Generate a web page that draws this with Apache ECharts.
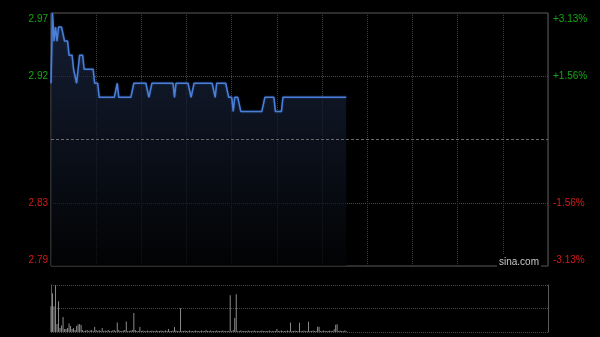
<!DOCTYPE html>
<html>
<head>
<meta charset="utf-8">
<script src="https://cdn.jsdelivr.net/npm/echarts@6/dist/echarts.min.js"></script>
<style>html,body{margin:0;padding:0;background:#000;}#c{width:600px;height:337px;}</style>
</head>
<body>
<div id="c"></div>
<script>
// minute index from 9:30 (HK session, 330 minutes total)
const prices = [
2.92,2.97,2.95,2.96,2.95,2.96,2.96,2.96,2.96,2.95,
2.95,2.95,2.94,2.94,2.94,2.93,2.93,2.92,2.93,2.94,
2.94,2.94,2.93,2.93,2.93,2.93,2.93,2.93,2.93,2.92,
2.92,2.92,2.91,2.91,2.91,2.91,2.91,2.91,2.91,2.91,
2.91,2.91,2.91,2.91,2.92,2.91,2.91,2.91,2.91,2.91,
2.91,2.91,2.91,2.91,2.91,2.92,2.92,2.92,2.92,2.92,
2.92,2.92,2.92,2.92,2.92,2.91,2.91,2.92,2.92,2.92,
2.92,2.92,2.92,2.92,2.92,2.92,2.92,2.92,2.92,2.92,
2.92,2.92,2.91,2.92,2.92,2.92,2.92,2.92,2.92,2.92,
2.92,2.92,2.92,2.91,2.91,2.92,2.92,2.92,2.92,2.92,
2.92,2.92,2.92,2.92,2.92,2.92,2.92,2.92,2.92,2.91,
2.92,2.92,2.92,2.92,2.92,2.92,2.92,2.92,2.91,2.91,
2.91,2.90,2.91,2.91,2.91,2.91,2.90,2.90,2.90,2.90,
2.90,2.90,2.90,2.90,2.90,2.90,2.90,2.90,2.90,2.90,
2.90,2.90,2.91,2.91,2.91,2.91,2.91,2.91,2.91,2.90,
2.90,2.90,2.90,2.90,2.91,2.91,2.91,2.91,2.91,2.91,
2.91,2.91,2.91,2.91,2.91,2.91,2.91,2.91,2.91,2.91,
2.91,2.91,2.91,2.91,2.91,2.91,2.91,2.91,2.91,2.91,
2.91,2.91,2.91,2.91,2.91,2.91,2.91,2.91,2.91,2.91,
2.91,2.91,2.91,2.91,2.91,2.91,2.91
];
const volumes = [
260,390,260,470,80,310,40,65,150,30,
30,40,85,60,30,40,20,60,75,80,
70,20,10,15,20,10,15,20,10,50,
20,10,20,10,40,10,15,10,20,10,
10,15,20,10,95,20,10,10,15,20,
105,10,10,15,20,190,20,10,10,50,
10,15,10,10,15,10,10,15,10,10,
15,10,10,15,10,10,15,10,30,10,
10,15,50,15,10,10,240,10,10,15,
10,10,15,10,10,10,15,10,10,10,
15,10,10,20,10,10,15,10,10,10,
15,10,10,10,15,10,10,10,10,370,
10,20,140,380,10,10,15,10,10,10,
10,15,10,10,10,15,10,10,10,10,
15,10,10,10,10,15,10,10,10,10,
30,10,10,15,10,10,10,15,10,95,
10,10,15,10,10,93,10,10,15,10,
10,103,10,10,15,10,10,53,53,10,
10,15,10,10,10,15,10,10,27,73,
77,10,15,10,10,15,10
];
const priceTicks = ['2.79','2.83','','2.92','2.97'];
const pctTicks = ['-3.13%','-1.56%','','+1.56%','+3.13%'];
const prevClose = 2.88;
const priceMin = 2.79, priceMax = 2.97, priceStep = 0.045;
const totalMinutes = 330, gridStep = 30;

const green = '#12a812', red = '#d41a1a';
const font = '"Liberation Sans", Arial, sans-serif';
function richLabel(text, idx, n) {
  if (!text) return '';
  const up = text.charAt(0) === '+' || idx > 2;
  const pos = idx === n - 1 ? 't' : (idx === 0 ? 'b' : 'm');
  return '{' + (up ? 'g' : 'r') + pos + '|' + text + '}';
}
const rich = {
  gt: {color: green, fontSize: 10, fontFamily: font, padding: [12, 0, 0, 0]},
  gm: {color: green, fontSize: 10, fontFamily: font},
  rm: {color: red, fontSize: 10, fontFamily: font},
  rb: {color: red, fontSize: 10, fontFamily: font, padding: [0, 0, 12, 0]}
};

const chart = echarts.init(document.getElementById('c'), null, {renderer: 'canvas'});
chart.setOption({
  backgroundColor: '#000',
  animation: false,
  title: {
    text: 'sina.com', left: 497, top: 254, padding: [3, 2, 2, 2],
    backgroundColor: '#000',
    textStyle: {color: '#c8c8c8', fontSize: 10, fontWeight: 'normal', fontFamily: font}
  },
  grid: [
    {left: 51, right: 52, top: 13, bottom: 71, show: true, borderColor: '#5a5a5a', borderWidth: 1, backgroundColor: 'transparent'},
    {left: 51, right: 52, top: 285, bottom: 5}
  ],
  xAxis: [
    {type: 'value', gridIndex: 0, min: 0, max: totalMinutes, interval: gridStep,
     axisLine: {show: false}, axisTick: {show: false}, axisLabel: {show: false},
     splitLine: {show: true, lineStyle: {color: '#3c3c3c', type: 'dotted'}}},
    {type: 'value', gridIndex: 1, min: 0, max: totalMinutes, interval: gridStep,
     axisLine: {show: false}, axisTick: {show: false}, axisLabel: {show: false},
     splitLine: {show: false}}
  ],
  yAxis: [
    {type: 'value', gridIndex: 0, min: priceMin, max: priceMax, interval: priceStep, position: 'left',
     axisLine: {show: false}, axisTick: {show: false},
     axisLabel: {margin: 3, formatter: (v, i) => richLabel(priceTicks[i], i, priceTicks.length), rich: rich},
     splitLine: {show: true, lineStyle: {color: ['transparent', '#4a4a4a', 'transparent', '#4a4a4a', 'transparent'], type: 'dotted'}}},
    {type: 'value', gridIndex: 0, min: priceMin, max: priceMax, interval: priceStep, position: 'right',
     axisLine: {show: false}, axisTick: {show: false},
     axisLabel: {margin: 5, formatter: (v, i) => richLabel(pctTicks[i], i, pctTicks.length), rich: rich},
     splitLine: {show: false}},
    {type: 'value', gridIndex: 1, min: 0, max: 473, interval: 236.5, position: 'left',
     axisLine: {show: true, lineStyle: {color: '#5a5a5a'}}, axisTick: {show: false}, axisLabel: {show: false},
     splitLine: {show: true, lineStyle: {color: '#4a4a4a', type: 'dotted'}}},
    {type: 'value', gridIndex: 1, min: 0, max: 473, interval: 236.5, position: 'right',
     axisLine: {show: true, lineStyle: {color: '#5a5a5a'}}, axisTick: {show: false}, axisLabel: {show: false},
     splitLine: {show: false}}
  ],
  series: [
    {type: 'line', xAxisIndex: 0, yAxisIndex: 0, symbol: 'none',
     data: prices.map((p, i) => [i, p]),
     lineStyle: {color: '#4a7fd8', width: 1.5, shadowColor: 'rgba(60,110,210,0.6)', shadowBlur: 2},
     areaStyle: {color: new echarts.graphic.LinearGradient(0, 0, 0, 1, [
       {offset: 0, color: '#1d2b4a'}, {offset: 1, color: '#030405'}])},
     markLine: {silent: true, symbol: 'none', label: {show: false},
       lineStyle: {color: '#6a6a6a', type: [3, 2], width: 1},
       data: [{yAxis: prevClose}]}
    },
    {type: 'bar', xAxisIndex: 1, yAxisIndex: 2, barWidth: 1,
     data: volumes.map((v, i) => [i, v]),
     itemStyle: {color: '#8a8a8a'}}
  ]
});
</script>
</body>
</html>
